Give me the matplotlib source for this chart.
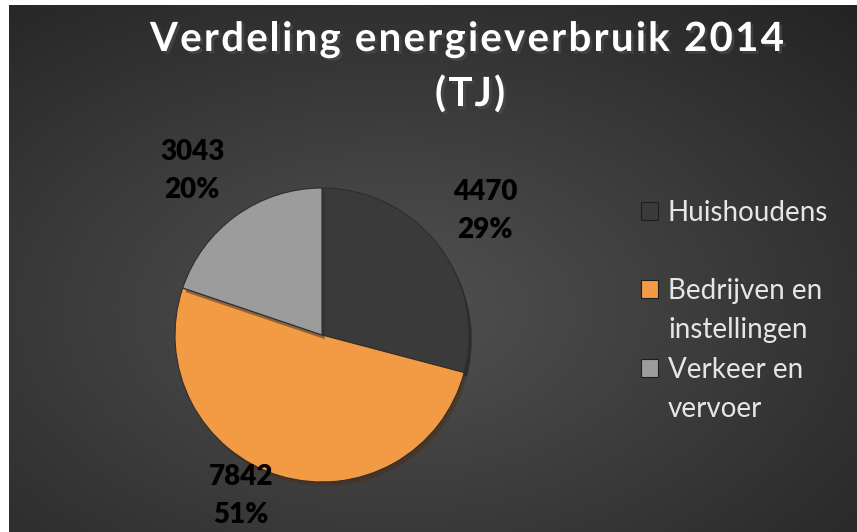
import numpy as np
import matplotlib
matplotlib.use("Agg")
import matplotlib.pyplot as plt
import matplotlib.patheffects as pe
from matplotlib.patches import Rectangle

categories = ["Huishoudens", "Bedrijven en\ninstellingen", "Verkeer en\nvervoer"]
values = [4470, 7842, 3043]
percent_labels = ["29%", "51%", "20%"]
colors = ["#3a3a3a", "#f39a45", "#9c9c9c"]
title_lines = ["Verdeling energieverbruik 2014", "(TJ)"]

FONT = ["Lato", "DejaVu Sans"]
W, H = 857, 532
fig = plt.figure(figsize=(W / 100, H / 100), dpi=100)
fig.patch.set_facecolor("white")
renderer = fig.canvas.get_renderer()


def px(x, y):
    return x / W, 1 - y / H


# background with radial gradient
bx0, by_top = 9 / W, 5 / H
bg = fig.add_axes([bx0, 0, 1 - bx0, 1 - by_top])
bg.set_axis_off()
yy, xx = np.mgrid[0:1:300j, 0:1:500j]
r = np.sqrt(((xx - 0.45) / 0.75) ** 2 + ((yy - 0.42) / 0.75) ** 2)
v = 0.32 - 0.17 * np.clip(r, 0, 1.2)
img = np.dstack([v, v, v])
bg.imshow(img, extent=[0, 1, 0, 1], aspect="auto", origin="lower")

# pie axes: center ~ (322, 335) px, radius ~147 px
cx, cy, rad = 322, 335, 147
ax = fig.add_axes([(cx - rad) / W, (H - cy - rad) / H, 2 * rad / W, 2 * rad / H])
wedges, _ = ax.pie(values, colors=colors, startangle=90, counterclock=False,
                   radius=1.0,
                   wedgeprops=dict(edgecolor="#2e2e2e", linewidth=0.8))
for w in wedges:
    w.set_path_effects([pe.SimplePatchShadow(offset=(2, -3), alpha=0.5), pe.Normal()])
ax.set_xlim(-1, 1)
ax.set_ylim(-1, 1)
ax.set_aspect("auto")

# data labels (value on first line, percent on second)
lab_kw = dict(family=FONT, fontsize=20, fontweight="heavy", color="black",
              ha="center", va="baseline")
label_pos = [(485, 200), (241, 485), (192, 160)]
for (lx, ly), val, pct in zip(label_pos, values, percent_labels):
    fig.text(*px(lx, ly), f"{val}", **lab_kw)
    fig.text(*px(lx, ly + 38), pct, **lab_kw)


# title with letter spacing
def spaced_text(s, xc, ybase, spacing, **kw):
    widths = []
    for i in range(len(s) + 1):
        t = fig.text(0, 0, s[:i] + "|", **kw)
        widths.append(t.get_window_extent(renderer).width)
        t.remove()
    bar = widths[0]
    adv = [w - bar for w in widths]
    total = adv[-1] + spacing * (len(s) - 1)
    x0 = xc - total / 2
    for i, ch in enumerate(s):
        if ch == " ":
            continue
        fig.text(*px(x0 + adv[i] + spacing * i, ybase), ch, ha="left", va="baseline", **kw)


title_kw = dict(color="white", fontsize=29, fontweight="bold", family=FONT,
                path_effects=[pe.withSimplePatchShadow(offset=(2, -2), alpha=0.6)])
spaced_text(title_lines[0], 467, 51, 2.2, **title_kw)
spaced_text(title_lines[1], 470, 106, 2.2, **title_kw)

# legend
leg_kw = dict(color="#e6e6e6", fontsize=20, family=FONT, ha="left", va="baseline")
legend_rows = [(221, [categories[0]]), (299, categories[1].split("\n")),
               (378, categories[2].split("\n"))]
for i, (base, lines) in enumerate(legend_rows):
    fig.patches.append(Rectangle(px(641, base - 1), 17 / W, 18 / H,
                                 transform=fig.transFigure, facecolor=colors[i],
                                 edgecolor="#1e1e1e", linewidth=0.8))
    for j, line in enumerate(lines):
        fig.text(*px(668, base + 39 * j), line, **leg_kw)

fig.savefig("out.png", dpi=100, facecolor=fig.get_facecolor())
